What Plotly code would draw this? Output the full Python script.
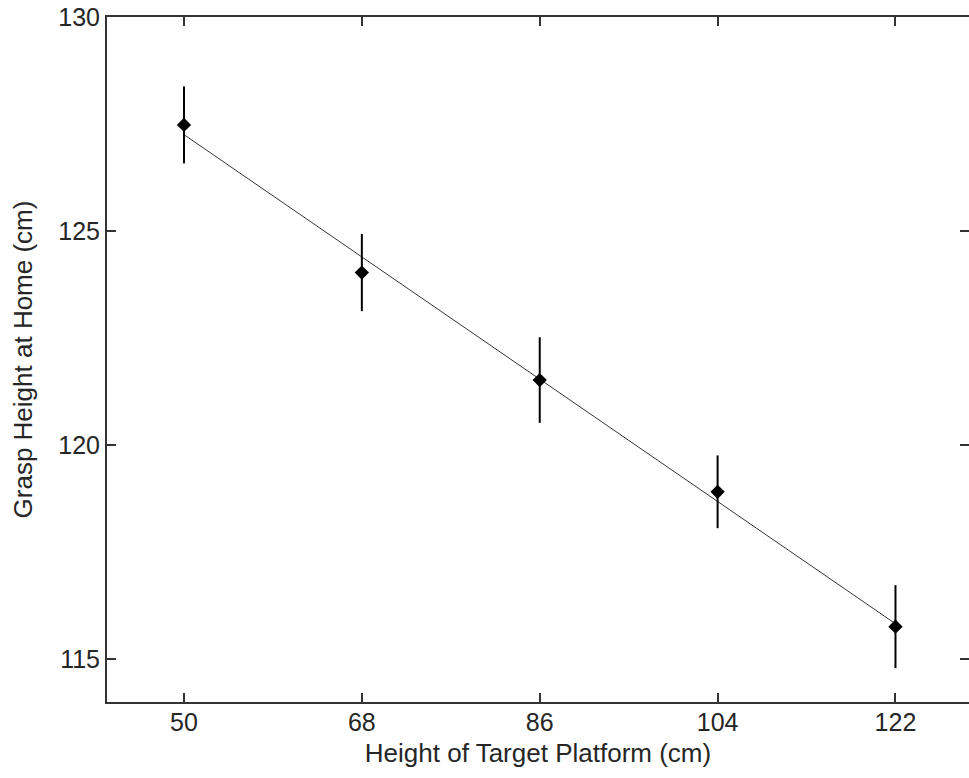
import numpy as np
import plotly.graph_objects as go

# Data
platform_height = [50, 68, 86, 104, 122]
grasp_height = [127.48, 124.03, 121.52, 118.91, 115.76]
grasp_err = [0.90, 0.90, 1.00, 0.85, 0.97]
x_ticks = [50, 68, 86, 104, 122]
y_ticks = [115, 120, 125, 130]

slope, intercept = np.polyfit(platform_height, grasp_height, 1)
fit_x = [platform_height[0], platform_height[-1]]
fit_y = [slope * v + intercept for v in fit_x]

font_family = "Liberation Sans, Arial, Helvetica, sans-serif"
txt_color = "#262626"

fig = go.Figure()
fig.add_trace(go.Scatter(
    x=fit_x, y=fit_y, mode="lines",
    line=dict(color="#333333", width=1),
    showlegend=False, hoverinfo="skip",
))
fig.add_trace(go.Scatter(
    x=platform_height, y=grasp_height, mode="markers",
    marker=dict(symbol="diamond", size=11, color="black"),
    error_y=dict(type="data", array=grasp_err, visible=True,
                 color="black", thickness=2, width=0),
    showlegend=False,
))

fig.update_layout(
    width=969, height=778,
    margin=dict(l=107, r=0, t=17, b=76, autoexpand=False),
    paper_bgcolor="white", plot_bgcolor="white",
    font=dict(family=font_family, size=25, color=txt_color),
)
fig.update_xaxes(
    range=[42.21, 129.44], automargin=False,
    tickmode="array", tickvals=x_ticks, ticktext=[str(v) for v in x_ticks],
    ticks="inside", ticklen=9, tickwidth=1.5, tickcolor="#333333",
    showline=True, linecolor="#333333", linewidth=2, mirror="ticks",
    showgrid=False, zeroline=False, ticklabelstandoff=-3,
    title=dict(text="Height of Target Platform (cm)", standoff=9,
               font=dict(size=26, family=font_family, color=txt_color)),
    tickfont=dict(size=25, family=font_family, color=txt_color),
)
fig.update_yaxes(
    range=[114, 130], automargin=False,
    tickmode="array", tickvals=y_ticks, ticktext=[str(v) for v in y_ticks],
    ticks="inside", ticklen=9, tickwidth=1.5, tickcolor="#333333",
    showline=True, linecolor="#333333", linewidth=2, mirror="ticks",
    showgrid=False, zeroline=False,
    title=dict(text="Grasp Height at Home (cm)", standoff=18,
               font=dict(size=26, family=font_family, color=txt_color)),
    tickfont=dict(size=25, family=font_family, color=txt_color),
)

fig.write_html(
    "out.html",
    config={"displayModeBar": False},
    post_script="document.body.style.margin='0';document.body.style.overflow='hidden';",
)
